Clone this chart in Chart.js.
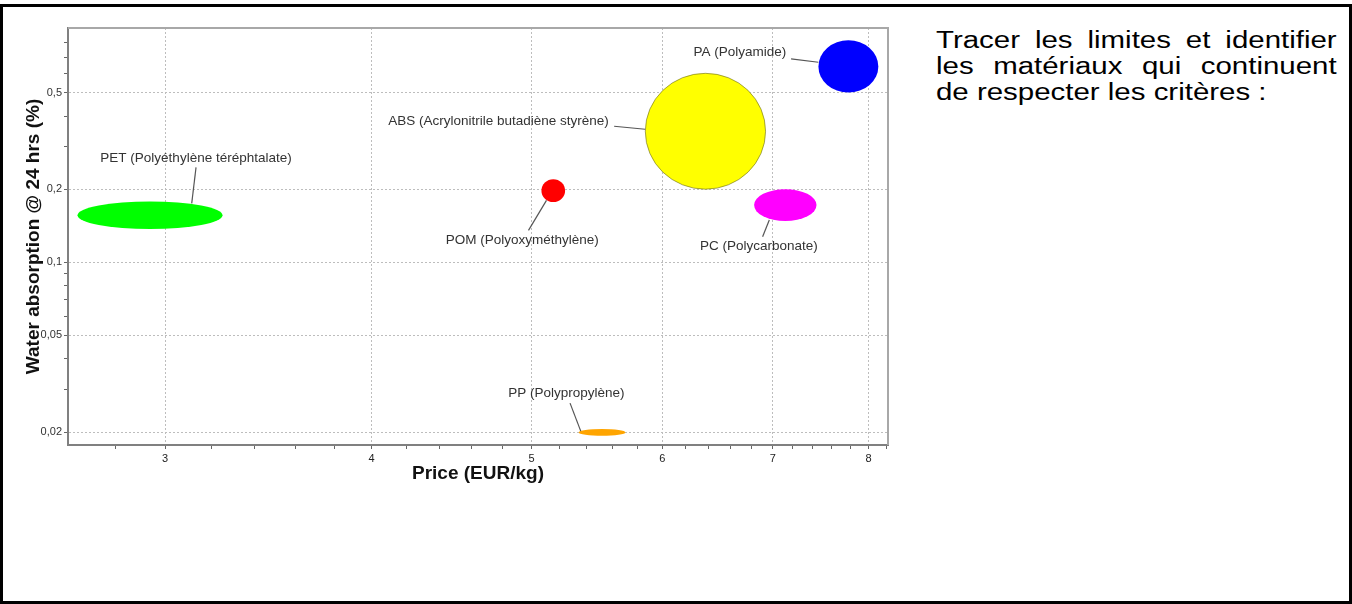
<!DOCTYPE html>
<html lang="fr">
<head>
<meta charset="utf-8">
<title>Water absorption vs Price</title>
<script src="https://cdn.jsdelivr.net/npm/chart.js@4.4.1/dist/chart.umd.min.js"></script>
<style>
  html, body { margin: 0; padding: 0; background: #fff; }
  body { width: 1352px; height: 604px; position: relative; overflow: hidden; font-family: "Liberation Sans", Arial, sans-serif; }
  .frame { position: absolute; left: 0; top: 4px; width: 1352px; height: 600px; border: 3px solid #000; box-sizing: border-box; }
  #chart { position: absolute; left: 0; top: 0; }
  .consigne { position: absolute; left: 936px; top: 27px; width: 313px; font-size: 23px; line-height: 26px; color: #000;
    transform: scaleX(1.28); transform-origin: 0 0; }
  .consigne span { display: block; text-align: justify; text-align-last: justify; white-space: nowrap; }
  .consigne span.last { text-align-last: left; }
</style>
</head>
<body>
<div class="frame"></div>
<canvas id="chart" width="900" height="495"></canvas>
<div class="consigne">
  <span>Tracer les limites et identifier</span>
  <span>les matériaux qui continuent</span>
  <span class="last">de respecter les critères :</span>
</div>
<script>
// données (plages prix / absorption d'eau)
const materials = ["PA (Polyamide)", "ABS (Acrylonitrile butadiène styrène)", "PET (Polyéthylène téréphtalate)",
  "POM (Polyoxyméthylène)", "PC (Polycarbonate)", "PP (Polypropylène)"];
const priceMin = [7.46, 5.86, 2.655, 5.07, 6.82, 5.34];
const priceMax = [8.11, 6.93, 3.25, 5.24, 7.44, 5.70];
const waterMin = [0.50, 0.20, 0.137, 0.177, 0.148, 0.0193];
const waterMax = [0.82, 0.60, 0.178, 0.22, 0.20, 0.0206];

const xTicks = [3, 4, 5, 6, 7, 8];
const xTickLabels = ["3", "4", "5", "6", "7", "8"];
const xMinorTicks = [2.8, 3.2, 3.4, 3.6, 3.8, 4.2, 4.4, 4.6, 4.8, 5.2, 5.4, 5.6, 5.8,
  6.2, 6.4, 6.6, 6.8, 7.2, 7.4, 7.6, 7.8, 8.2];
const yTicks = [0.02, 0.05, 0.1, 0.2, 0.5];
const yTickLabels = ["0,02", "0,05", "0,1", "0,2", "0,5"];
const yMinorTicks = [0.03, 0.04, 0.06, 0.07, 0.08, 0.09, 0.3, 0.4, 0.6, 0.7, 0.8];

// styles
const fillColors = ["#0000ff", "#ffff00", "#00ff00", "#ff0000", "#ff00ff", "#ffa500"];
const strokeColors = [null, "rgba(90,90,40,0.55)", null, null, null, null];
// position des étiquettes, en pixels par rapport au centre de l'ellipse
const labelLayout = [
  { dx: -108.5, dy: -14.5, line: [-57.3, -7.5, -30, -4.2] },
  { dx: -207, dy: -10, line: [-91.3, -5, -60.3, -2] },
  { dx: 46, dy: -57, line: [46, -48, 41.7, -12] },
  { dx: -31, dy: 49.7, line: [-24.8, 39.7, -6.8, 9.7] },
  { dx: -26.5, dy: 41, line: [-22.7, 31.7, -16, 15] },
  { dx: -35.6, dy: -39.3, line: [-32, -29.3, -21.3, -1.3] },
];

const FONT = "'Liberation Sans', Arial, sans-serif";

const setTicks = (major, minor) => (scale) => {
  scale.ticks = major.map(v => ({ value: v, major: true }))
    .concat(minor.map(v => ({ value: v, major: false })))
    .sort((a, b) => a.value - b.value);
};
const gridColor = ctx => (ctx.tick && ctx.tick.major) ? "#bdbdbd" : "rgba(0,0,0,0)";

const framePlugin = {
  id: "frame",
  beforeDatasetsDraw(chart) {
    const { ctx, chartArea: a } = chart;
    ctx.save();
    ctx.strokeStyle = "#a8a8a8";
    ctx.lineWidth = 2;
    ctx.beginPath();
    ctx.moveTo(a.left, a.top);
    ctx.lineTo(a.right, a.top);
    ctx.lineTo(a.right, a.bottom);
    ctx.stroke();
    ctx.restore();
  },
};

const ellipsePlugin = {
  id: "ellipses",
  afterDatasetsDraw(chart) {
    const { ctx } = chart;
    const xs = chart.scales.x, ys = chart.scales.y;
    materials.forEach((name, i) => {
      const x1 = xs.getPixelForValue(priceMin[i]), x2 = xs.getPixelForValue(priceMax[i]);
      const y1 = ys.getPixelForValue(waterMax[i]), y2 = ys.getPixelForValue(waterMin[i]);
      const cx = (x1 + x2) / 2, cy = (y1 + y2) / 2;
      ctx.save();
      ctx.beginPath();
      ctx.ellipse(cx, cy, (x2 - x1) / 2, (y2 - y1) / 2, 0, 0, Math.PI * 2);
      ctx.fillStyle = fillColors[i];
      ctx.fill();
      if (strokeColors[i]) {
        ctx.strokeStyle = strokeColors[i];
        ctx.lineWidth = 1;
        ctx.stroke();
      }
      const lay = labelLayout[i];
      ctx.beginPath();
      ctx.moveTo(cx + lay.line[0], cy + lay.line[1]);
      ctx.lineTo(cx + lay.line[2], cy + lay.line[3]);
      ctx.strokeStyle = "#555";
      ctx.lineWidth = 1.2;
      ctx.stroke();
      ctx.font = "13.5px " + FONT;
      ctx.fillStyle = "#333";
      ctx.textAlign = "center";
      ctx.textBaseline = "middle";
      ctx.fillText(name, cx + lay.dx, cy + lay.dy);
      ctx.restore();
    });
  },
};

new Chart(document.getElementById("chart"), {
  type: "scatter",
  data: {
    datasets: [{
      label: "Matériaux",
      data: materials.map((m, i) => ({
        x: Math.sqrt(priceMin[i] * priceMax[i]),
        y: Math.sqrt(waterMin[i] * waterMax[i]),
      })),
      pointRadius: 0,
    }],
  },
  options: {
    responsive: false,
    animation: false,
    layout: { padding: { left: 8, top: 28, right: 12, bottom: 0 } },
    plugins: { legend: { display: false }, tooltip: { enabled: false } },
    scales: {
      x: {
        type: "logarithmic",
        position: "bottom",
        min: 2.62,
        max: 8.22,
        bounds: "data",
        afterBuildTicks: setTicks(xTicks, xMinorTicks),
        afterFit: s => { s.height = 50; },
        grid: { color: gridColor, lineWidth: 1, tickLength: 4, tickColor: "#666", tickWidth: 1 },
        border: { color: "#808080", width: 2, dash: [2, 2] },
        ticks: {
          autoSkip: false, maxRotation: 0, padding: 3, color: "#222",
          font: { family: FONT, size: 11 },
          callback: v => { const k = xTicks.indexOf(v); return k >= 0 ? xTickLabels[k] : ""; },
        },
        title: {
          display: true, text: "Price (EUR/kg)", color: "#111",
          font: { family: FONT, size: 19, weight: "bold" },
          padding: { top: 0, bottom: 9.6 },
        },
      },
      y: {
        type: "logarithmic",
        position: "left",
        min: 0.0177,
        max: 0.922,
        bounds: "data",
        afterBuildTicks: setTicks(yTicks, yMinorTicks),
        afterFit: s => { s.width = 60; },
        grid: { color: gridColor, lineWidth: 1, tickLength: 4, tickColor: "#666", tickWidth: 1 },
        border: { color: "#808080", width: 2, dash: [2, 2] },
        ticks: {
          autoSkip: false, padding: 2, color: "#333",
          font: { family: FONT, size: 11 },
          callback: v => { const k = yTicks.indexOf(v); return k >= 0 ? yTickLabels[k] : ""; },
        },
        title: {
          display: true, text: "Water absorption @ 24 hrs (%)", color: "#111",
          font: { family: FONT, size: 19, weight: "bold" },
          padding: { top: 14, bottom: 0 },
        },
      },
    },
  },
  plugins: [framePlugin, ellipsePlugin],
});
</script>
</body>
</html>
